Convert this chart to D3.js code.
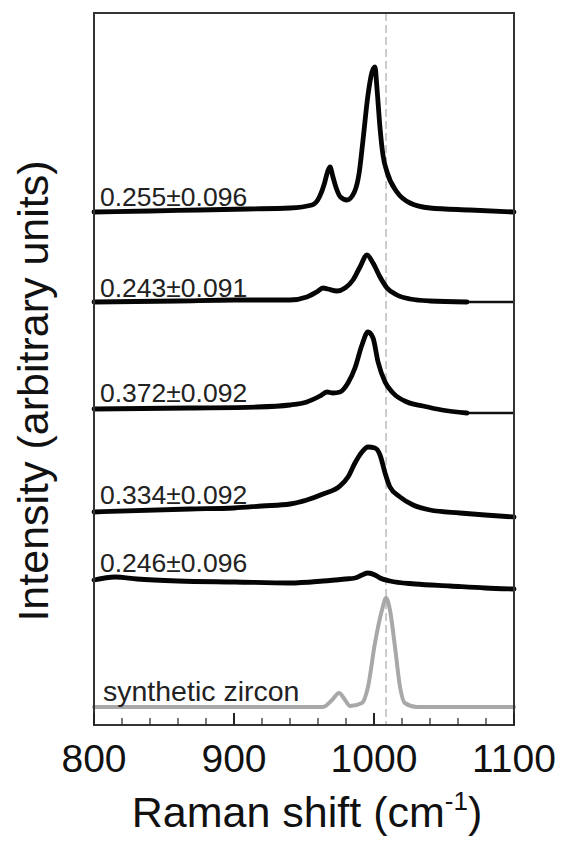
<!DOCTYPE html>
<html>
<head>
<meta charset="utf-8">
<script src="https://cdn.jsdelivr.net/npm/d3@7"></script>
<style>
  html, body { margin: 0; padding: 0; background: #fff; }
  svg { display: block; font-family: "Liberation Sans", Arial, Helvetica, sans-serif; }
</style>
</head>
<body>
<svg id="chart" width="565" height="843"></svg>
<script>
// ---------- data ----------
const labels = ["0.255±0.096", "0.243±0.091", "0.372±0.092", "0.334±0.092", "0.246±0.096", "synthetic zircon"];
const offsets = [513, 423, 316, 213, 145, 18];       // stacking offset of each spectrum (arbitrary units)
const truncated = [false, true, true, false, false, false]; // data ends before 1100 cm-1

const s1Shift = [800, 840, 875, 910, 940, 955.7, 961, 964.5, 966.8, 968.6, 970.5, 973, 976, 980.7, 986, 989.5, 992, 995.7, 998.6, 1000.7, 1002.1, 1004.3, 1006.4, 1009.3, 1016.4, 1025.7, 1040, 1068.6, 1100];
const s1Int   = [0, 1, 2, 3, 4, 7, 15, 28, 40, 45, 36, 24, 15, 12, 20, 40, 70, 117, 140, 145, 124, 84, 57, 40, 20, 9, 4, 2, 0];

const s2Shift = [800, 860, 900, 940, 952, 959, 963.6, 967, 973.6, 979.3, 985, 990, 995, 999.3, 1004.3, 1009.3, 1016.4, 1025.7, 1040, 1066.4];
const s2Int   = [0, 1, 2, 2, 5, 10, 14, 13, 11, 14, 22, 35, 47, 39, 25, 14, 7, 3, 1, 0];

const s3Shift = [800, 868.6, 916.4, 940, 952, 961.4, 966.4, 970.7, 975.7, 981.4, 986.4, 991.4, 995.7, 999.3, 1002.9, 1007.9, 1013.6, 1023.6, 1035, 1048.6, 1066.4];
const s3Int   = [0, 1, 2, 4, 7, 13, 17, 16, 17, 26, 41, 64, 77, 71, 47, 27, 16, 7, 3, -1, -4];

const s4Shift = [800, 868.6, 900, 920, 940, 952, 963.6, 975.7, 981.4, 986.4, 991.4, 995.7, 1000.7, 1004.3, 1007.9, 1011.4, 1018.6, 1027.9, 1040, 1061.4, 1079.3, 1100];
const s4Int   = [0, 3, 4, 6, 8, 12, 18, 26, 35, 49, 60, 65, 64, 57, 39, 25, 15, 7, 2, -1, -3, -5];

const s5Shift = [800, 815, 830.7, 860, 900.7, 940, 963.6, 979.3, 986.4, 991.4, 995.7, 1000.7, 1004.3, 1011.4, 1029.3, 1054.3, 1079.3, 1100];
const s5Int   = [0, 3, 1, -1, -2, -3, -1, 1, 2, 5, 7, 5, 2, -1, -4, -6, -8, -9];

const synShift = [800, 900, 961.4, 963.6, 970, 975, 979.3, 982.9, 991.4, 995.7, 1000.7, 1005.7, 1008.6, 1011.4, 1015, 1018.6, 1022, 1030.7, 1060, 1100];
const synInt   = [0, 0, 0, 0, 7, 14, 7, 1, 4, 20, 64, 97, 109, 97, 60, 20, 4, 0, 0, 0];

const referenceShift = 1008.6;   // dashed vertical marker (cm-1)
const xDomain = [800, 1100];
const yDomain = [0, 712];
const xTickLabels = [800, 900, 1000, 1100];
const xMinorStep = 20;

// ---------- layout ----------
const margin = { left: 94, top: 13, right: 51, bottom: 118 };
const W = 565, H = 843;
const iw = W - margin.left - margin.right;
const ih = H - margin.top - margin.bottom;

const svg = d3.select("#chart");
const g = svg.append("g").attr("transform", `translate(${margin.left},${margin.top})`);

const x = d3.scaleLinear().domain(xDomain).range([0, iw]);
const y = d3.scaleLinear().domain(yDomain).range([ih, 0]);

const series = [
  { sh: s1Shift, v: s1Int },
  { sh: s2Shift, v: s2Int },
  { sh: s3Shift, v: s3Int },
  { sh: s4Shift, v: s4Int },
  { sh: s5Shift, v: s5Int },
  { sh: synShift, v: synInt }
].map((s, i) => ({
  label: labels[i],
  offset: offsets[i],
  truncated: truncated[i],
  grey: i === labels.length - 1,
  pts: s.sh.map((d, j) => [d, s.v[j] + offsets[i]])
}));

// dashed reference line
g.append("line")
  .attr("x1", x(referenceShift)).attr("x2", x(referenceShift))
  .attr("y1", 0).attr("y2", ih)
  .attr("stroke", "#aaa").attr("stroke-width", 1.2)
  .attr("stroke-dasharray", "8,4");

const line = d3.line()
  .x(d => x(d[0]))
  .y(d => y(d[1]))
  .curve(d3.curveMonotoneX);

series.forEach(s => {
  if (s.truncated) {
    const last = s.pts[s.pts.length - 1];
    g.append("line")
      .attr("x1", x(last[0])).attr("x2", x(xDomain[1]))
      .attr("y1", y(last[1])).attr("y2", y(last[1]))
      .attr("stroke", "#111").attr("stroke-width", 2.5);
  }
  g.append("path")
    .datum(s.pts)
    .attr("d", line)
    .attr("fill", "none")
    .attr("stroke", s.grey ? "#a8a8a8" : "#050505")
    .attr("stroke-width", s.grey ? 4 : 4.8)
    .attr("stroke-linejoin", "round")
    .attr("stroke-linecap", "round");
});

// spectrum labels
const labelBaselines = [206, 297, 402, 504, 572, 701];
series.forEach((s, i) => {
  g.append("text")
    .attr("x", s.grey ? 9 : 6)
    .attr("y", labelBaselines[i] - margin.top)
    .attr("font-size", s.grey ? 28.5 : 26.5)
    .attr("fill", "#222")
    .text(s.label);
});

// frame
g.append("rect")
  .attr("x", 0).attr("y", 0).attr("width", iw).attr("height", ih)
  .attr("fill", "none").attr("stroke", "#333").attr("stroke-width", 2);

// bottom ticks (inward)
const minorTicks = d3.range(xDomain[0], xDomain[1] + 0.1, xMinorStep);
g.selectAll(".tick")
  .data(minorTicks)
  .enter().append("line")
  .attr("x1", d => x(d)).attr("x2", d => x(d))
  .attr("y1", ih)
  .attr("y2", d => ih - (d % 100 === 0 ? 12 : 7))
  .attr("stroke", "#222")
  .attr("stroke-width", d => d % 100 === 0 ? 2 : 1.2);

// tick labels
g.selectAll(".tl")
  .data(xTickLabels)
  .enter().append("text")
  .attr("x", d => x(d))
  .attr("y", 772 - margin.top)
  .attr("text-anchor", "middle")
  .attr("font-size", 39)
  .attr("fill", "#111")
  .text(d => d);

// x-axis title
const xt = svg.append("text")
  .attr("x", 307).attr("y", 827)
  .attr("text-anchor", "middle")
  .attr("font-size", 43)
  .attr("fill", "#111");
xt.append("tspan").text("Raman shift (cm");
xt.append("tspan").attr("font-size", 26).attr("dy", -17).text("-1");
xt.append("tspan").attr("dy", 17).text(")");

// y-axis title
svg.append("text")
  .attr("transform", "translate(48,391) rotate(-90)")
  .attr("text-anchor", "middle")
  .attr("font-size", 43)
  .attr("fill", "#111")
  .text("Intensity (arbitrary units)");
</script>
</body>
</html>
